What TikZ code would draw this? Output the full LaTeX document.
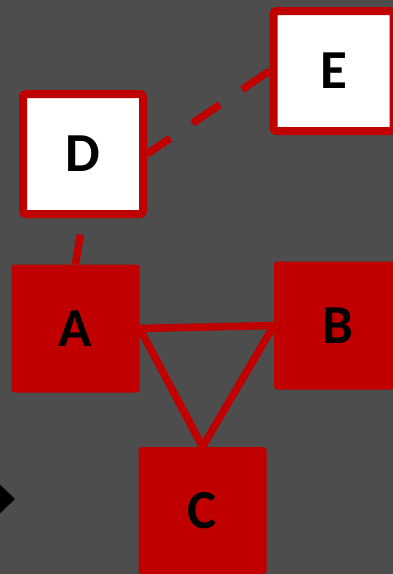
\documentclass[tikz,border=0pt]{standalone}
\usepackage{fontspec}
\setmainfont{Carlito}
\usetikzlibrary{shapes.geometric}
\definecolor{bgrey}{HTML}{4D4D4D}
\definecolor{dred}{HTML}{C00000}
\pgfdeclarelayer{canvas}
\pgfdeclarelayer{links}
\pgfsetlayers{canvas,links,main}
\tikzset{
  solidbox/.style={rectangle, fill=dred, minimum size=128pt, inner sep=0pt,
    rounded corners=3pt, font=\fontsize{55}{55}\selectfont\bfseries, text=black},
  framebox/.style={rectangle, draw=dred, fill=white, line width=8pt,
    minimum size=120pt, inner sep=0pt, rounded corners=3pt,
    font=\fontsize{55}{55}\selectfont\bfseries, text=black},
  link/.style={draw=dred, line width=7.5pt},
  dashlink/.style={link, dash pattern=on 33pt off 27pt},
}
\begin{document}
\begin{tikzpicture}[x=1pt, y=-1pt]
  \useasboundingbox (0,0) rectangle (393,574);

  % nodes
  \node[solidbox] (A) at (75.5,328.5) {A};
  \node[solidbox] (B) at (338,325.5) {B};
  \node[solidbox] (C) at (202.5,511) {C};
  \node[framebox] (D) at (83,154) {D};
  \node[framebox] (E) at (333.5,71) {E};

  % black diamond at the left margin
  \node[diamond, fill=black, inner sep=0pt, minimum width=30pt, minimum height=29pt] (K) at (0,499) {};

  % connectors, kept beneath the boxes
  \begin{pgfonlayer}{links}
    \draw[link] (A.east) -- (B.west);
    \draw[link] (A.east) -- (C.north);
    \draw[link] (B.west) -- (C.north);
    \draw[dashlink, dash phase=3pt] (A.north) -- (D.south);
    \draw[dashlink] (E.west) -- (D.east);
  \end{pgfonlayer}

  % canvas
  \begin{pgfonlayer}{canvas}
    \fill[bgrey] (0,0) rectangle (393,574);
  \end{pgfonlayer}
\end{tikzpicture}
\end{document}
